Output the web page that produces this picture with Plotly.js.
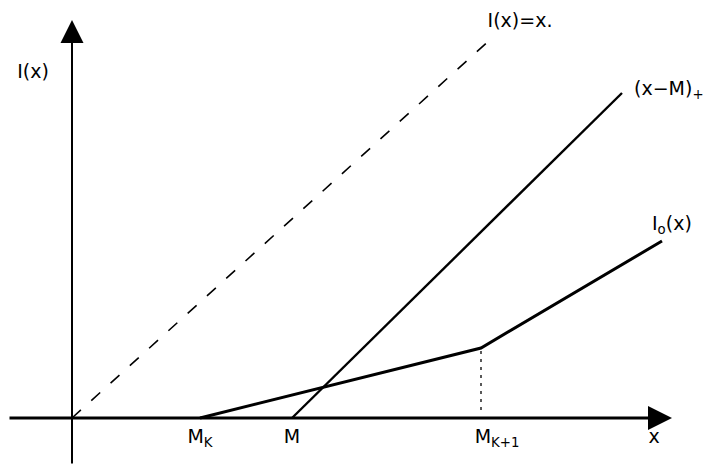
<!DOCTYPE html>
<html>
<head>
<meta charset="utf-8">
<script src="https://cdn.plot.ly/plotly-3.0.1.min.js"></script>
<style>
  html, body { margin: 0; padding: 0; background: #fff; }
  #chart { width: 705px; height: 466px; }
</style>
</head>
<body>
<div id="chart"></div>
<script>
// Positions along the x axis
const Mk = 128;
const M = 220;
const Mk1 = 409;

// Identity line I(x) = x
const diagX = [0, 420];
const diagY = [0, 380];

// Stop-loss line (x - M)+
const stopX = [M, 550];
const stopY = [0, 325];

// Piecewise linear I0(x)
const i0X = [Mk, Mk1, 590];
const i0Y = [0, 70, 177];

// Vertical guide at M_{K+1}
const guideX = [Mk1, Mk1];
const guideY = [8, 70];

// Axis extents
const xAxisFrom = -64, xAxisTo = 600;
const yAxisFrom = -47, yAxisTo = 398;

// Tick labels under the x axis
const tickText = ['M<sub>K</sub>', 'M', 'M<sub>K+1</sub>', 'x'];
const tickX = [Mk, M, Mk1 + 16, 582];
const tickY = [-20, -20, -20, -20];

// Curve labels
const curveText = ['I(x)', 'I(x)=x.'];
const curveX = [-39, 448];
const curveY = [345, 396];
const sideText = ['(x−M)<sub>+</sub>', 'I<sub>o</sub>(x)'];
const sideX = [562, 580];
const sideY = [328, 193];

const labelFont = { family: 'DejaVu Sans', size: 19, color: '#000000' };

const traces = [
  { x: diagX, y: diagY, mode: 'lines', line: { color: '#000', width: 1.6, dash: '12px,14px' }, hoverinfo: 'skip' },
  { x: stopX, y: stopY, mode: 'lines', line: { color: '#000', width: 2.4 }, hoverinfo: 'skip' },
  { x: i0X, y: i0Y, mode: 'lines', line: { color: '#000', width: 3 }, hoverinfo: 'skip' },
  { x: guideX, y: guideY, mode: 'lines', line: { color: '#000', width: 1.3, dash: '3px,5px' }, hoverinfo: 'skip' },
  { x: tickX, y: tickY, text: tickText, mode: 'text', textposition: 'middle center',
    textfont: labelFont, cliponaxis: false, hoverinfo: 'skip' },
  { x: curveX, y: curveY, text: curveText, mode: 'text', textposition: 'middle center',
    textfont: labelFont, cliponaxis: false, hoverinfo: 'skip' },
  { x: sideX, y: sideY, text: sideText, mode: 'text', textposition: 'middle right',
    textfont: labelFont, cliponaxis: false, hoverinfo: 'skip' }
];

const annotations = [
  // x axis with arrow
  { x: xAxisTo, y: 0, ax: xAxisFrom, ay: 0, xref: 'x', yref: 'y', axref: 'x', ayref: 'y',
    text: '', showarrow: true, arrowhead: 2, arrowsize: 1.6, arrowwidth: 3, arrowcolor: '#000' },
  // y axis with arrow
  { x: 0, y: yAxisTo, ax: 0, ay: yAxisFrom, xref: 'x', yref: 'y', axref: 'x', ayref: 'y',
    text: '', showarrow: true, arrowhead: 2, arrowsize: 2.3, arrowwidth: 2, arrowcolor: '#000' }
];

const layout = {
  width: 705, height: 466,
  margin: { l: 0, r: 0, t: 0, b: 0 },
  font: { family: 'DejaVu Sans', size: 19, color: '#000000' },
  paper_bgcolor: '#fff', plot_bgcolor: '#fff',
  showlegend: false,
  hovermode: false,
  xaxis: { range: [-72, 633], visible: false, fixedrange: true },
  yaxis: { range: [-48, 418], visible: false, fixedrange: true },
  annotations: annotations
};

Plotly.newPlot('chart', traces, layout, { displayModeBar: false });
</script>
</body>
</html>
